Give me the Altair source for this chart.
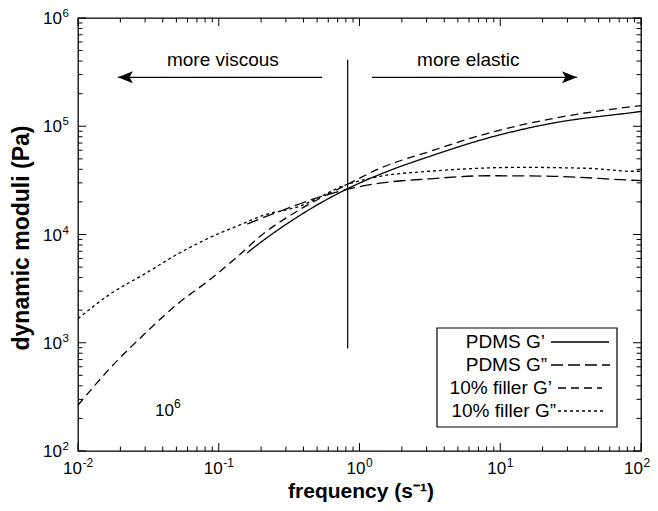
import altair as alt
import pandas as pd

# ---------------- data ----------------
pdms_gp_x = [0.159, 0.206, 0.272, 0.36, 0.467, 0.824, 1.4, 3.17, 8.05, 23.7, 87.7, 100]
pdms_gp_y = [6760, 8770, 11350, 14450, 17800, 26500, 36000, 52800, 77400, 107000, 134000, 137000]

pdms_gpp_x = [0.159, 0.206, 0.272, 0.467, 0.824, 1.4, 3.17, 8.05, 23.7, 87.7, 100]
pdms_gpp_y = [12500, 14300, 16400, 21200, 26200, 29800, 32700, 34900, 34500, 31700, 31500]

fill_gp_x = [0.01, 0.0171, 0.0299, 0.0513, 0.0881, 0.135, 0.206, 0.36, 0.824, 1.4, 3.17, 8.05, 23.7, 87.7, 100]
fill_gp_y = [265, 592, 1216, 2300, 3900, 6210, 10100, 16400, 29100, 40900, 58600, 85700, 118000, 152000, 155000]

fill_gpp_x = [0.01, 0.0171, 0.0299, 0.0513, 0.0881, 0.153, 0.206, 0.36, 0.824, 1.4, 3.17, 13.8, 41.3, 87.7, 100]
fill_gpp_y = [1670, 2840, 4340, 6620, 9480, 12800, 15000, 17900, 29100, 34500, 38400, 41700, 40900, 38400, 38400]

series_names = ["PDMS G\u2019", "PDMS G\u201d", "10% filler G\u2019", "10% filler G\u201d"]

divider_x = [0.824]
divider_y = [885, 411000]
arrow_left_x = [0.542, 0.0192]
arrow_right_x = [1.227, 35.1]
arrow_y = [283000]
annot_text = ["more viscous", "more elastic"]
annot_x = [0.107, 5.93]
annot_y = [405000]
stray_x = [0.0352]
stray_y = [232]

x_major = [0.01, 0.1, 1, 10, 100]
x_minor = [m * d for d in [0.01, 0.1, 1, 10] for m in range(2, 10)]
y_major = [1e2, 1e3, 1e4, 1e5, 1e6]
y_minor = [m * d for d in [1e2, 1e3, 1e4, 1e5] for m in range(2, 10)]
x_lab_neg = [0.01, 0.1]
x_exp_neg = ["-2", "-1"]
x_lab_pos = [1, 10]
x_exp_pos = ["0", "1"]
x_lab_last = [100]
x_exp_last = ["2"]
y_exp = ["2", "3", "4", "5", "6"]

# ---------------- layout ----------------
W, H = 563, 433
F = "Liberation Sans"
dashes = [[1, 0], [12, 5], [8, 5], [3, 3]]

xs = alt.Scale(type="log", domain=[0.01, 100], nice=False)
ys = alt.Scale(type="log", domain=[100, 1e6], nice=False)

rows = []
for name, xv, yv in zip(series_names,
                        [pdms_gp_x, pdms_gpp_x, fill_gp_x, fill_gpp_x],
                        [pdms_gp_y, pdms_gpp_y, fill_gp_y, fill_gpp_y]):
    for a, b in zip(xv, yv):
        rows.append({"series": name, "f": a, "g": b})
curves_df = pd.DataFrame(rows)

X = lambda f="f": alt.X(f + ":Q", scale=xs, axis=None)
Y = lambda f="g": alt.Y(f + ":Q", scale=ys, axis=None)

curves = alt.Chart(curves_df).mark_line(color="black", strokeWidth=1.3, interpolate="monotone").encode(
    x=X(), y=Y(),
    strokeDash=alt.StrokeDash("series:N", scale=alt.Scale(domain=series_names, range=dashes), legend=None),
    detail="series:N",
)

div_df = pd.DataFrame({"f": divider_x, "g": [divider_y[0]], "g2": [divider_y[1]]})
divider = alt.Chart(div_df).mark_rule(color="black", strokeWidth=1.2).encode(
    x=X(), y=Y(), y2="g2:Q")

arr_df = pd.DataFrame({"f": [arrow_left_x[0], arrow_right_x[0]], "f2": [arrow_left_x[1], arrow_right_x[1]],
                       "g": arrow_y * 2})
arrows = alt.Chart(arr_df).mark_rule(color="black", strokeWidth=1.2).encode(x=X(), x2="f2:Q", y=Y())
headL = alt.Chart(pd.DataFrame({"f": [arrow_left_x[1]], "g": arrow_y})).mark_point(
    shape="M0,0L2,-0.8L1.55,0L2,0.8Z", filled=True, size=225, color="black", opacity=1, strokeWidth=0
).encode(x=X(), y=Y())
headR = alt.Chart(pd.DataFrame({"f": [arrow_right_x[1]], "g": arrow_y})).mark_point(
    shape="M0,0L-2,-0.8L-1.55,0L-2,0.8Z", filled=True, size=225, color="black", opacity=1, strokeWidth=0
).encode(x=X(), y=Y())

ann_df = pd.DataFrame({"f": annot_x, "g": annot_y * 2, "t": annot_text})
annots = alt.Chart(ann_df).mark_text(font=F, fontSize=19, baseline="middle", align="center", color="black").encode(
    x=X(), y=Y(), text="t:N")

stray_df = pd.DataFrame({"f": stray_x, "g": stray_y})
stray10 = alt.Chart(stray_df).mark_text(text="10", font=F, fontSize=17, align="left", baseline="middle").encode(x=X(), y=Y())
stray6 = alt.Chart(stray_df).mark_text(text="6", font=F, fontSize=12, align="left", baseline="middle", dx=19, dy=-7).encode(x=X(), y=Y())

# ---------------- ticks (inside, all four sides) ----------------
def xticks(vals, L):
    d = pd.DataFrame({"f": vals})
    b = alt.Chart(d).mark_rule(color="black", strokeWidth=1).encode(x=X(), y=alt.value(H), y2=alt.value(H - L))
    t = alt.Chart(d).mark_rule(color="black", strokeWidth=1).encode(x=X(), y=alt.value(0), y2=alt.value(L))
    return [b, t]

def yticks(vals, L):
    d = pd.DataFrame({"g": vals})
    l = alt.Chart(d).mark_rule(color="black", strokeWidth=1).encode(y=Y(), x=alt.value(0), x2=alt.value(L))
    r = alt.Chart(d).mark_rule(color="black", strokeWidth=1).encode(y=Y(), x=alt.value(W), x2=alt.value(W - L))
    return [l, r]

ticks = xticks(x_major, 8) + xticks(x_minor, 4.5) + yticks(y_major, 8) + yticks(y_minor, 4.5)

# ---------------- tick labels ----------------
def xlabels(vals, exps, dxb, dxe):
    d = pd.DataFrame({"f": vals, "e": exps})
    b = alt.Chart(d).mark_text(text="10", font=F, fontSize=17, align="right", baseline="top", dx=dxb).encode(
        x=X(), y=alt.value(H + 10))
    e = alt.Chart(d).mark_text(font=F, fontSize=12, align="left", baseline="top", dx=dxe).encode(
        x=X(), y=alt.value(H + 7), text="e:N")
    return [b, e]

ylab_df = pd.DataFrame({"g": y_major, "e": y_exp})
ylabels = [
    alt.Chart(ylab_df).mark_text(text="10", font=F, fontSize=17, align="right", baseline="middle", dy=1).encode(
        y=Y(), x=alt.value(-16)),
    alt.Chart(ylab_df).mark_text(font=F, fontSize=11.5, align="left", baseline="middle", dy=-4).encode(
        y=Y(), x=alt.value(-15.5), text="e:N"),
]
labels = (xlabels(x_lab_neg, x_exp_neg, 4, 4.5) + xlabels(x_lab_pos, x_exp_pos, 6, 6.5)
          + xlabels(x_lab_last, x_exp_last, 2, 2.5) + ylabels)

# ---------------- axis titles ----------------
one = pd.DataFrame({"k": [0]})
xtitle = alt.Chart(one).mark_text(text="frequency (s\u207b\u00b9)", font=F, fontSize=21, fontWeight="bold",
                                  align="center", baseline="alphabetic").encode(x=alt.value(283), y=alt.value(480))
ytitle = alt.Chart(one).mark_text(text="dynamic moduli (Pa)", font=F, fontSize=23, fontWeight="bold",
                                  align="center", baseline="middle", angle=270).encode(x=alt.value(-56), y=alt.value(220))

# ---------------- legend ----------------
leg = [alt.Chart(one).mark_rect(fill="white", stroke="black", strokeWidth=1.2).encode(
    x=alt.value(359), x2=alt.value(539), y=alt.value(310), y2=alt.value(409))]
leg_rows = [(324, 467, 473, 531), (347, 469, 473, 532), (370, 474, 480, 524), (393, 478, 480, 527)]
for name, dash, (ry, lx, a, b) in zip(series_names, dashes, leg_rows):
    leg.append(alt.Chart(one).mark_rule(color="black", strokeWidth=1.3, strokeDash=dash).encode(
        x=alt.value(a), x2=alt.value(b), y=alt.value(ry)))
    leg.append(alt.Chart(one).mark_text(text=name, font=F, fontSize=19, align="right", baseline="middle").encode(
        x=alt.value(lx), y=alt.value(ry)))

chart = alt.layer(curves, divider, arrows, headL, headR, annots, stray10, stray6,
                  *ticks, *labels, xtitle, ytitle, *leg).properties(
    width=W, height=H,
    autosize=alt.AutoSizeParams(type="none"),
    padding={"left": 70, "top": 10, "right": 9, "bottom": 52},
).configure_view(stroke="black", strokeWidth=1.3)

chart.save("out.html", embed_options={"renderer": "svg", "actions": False})
